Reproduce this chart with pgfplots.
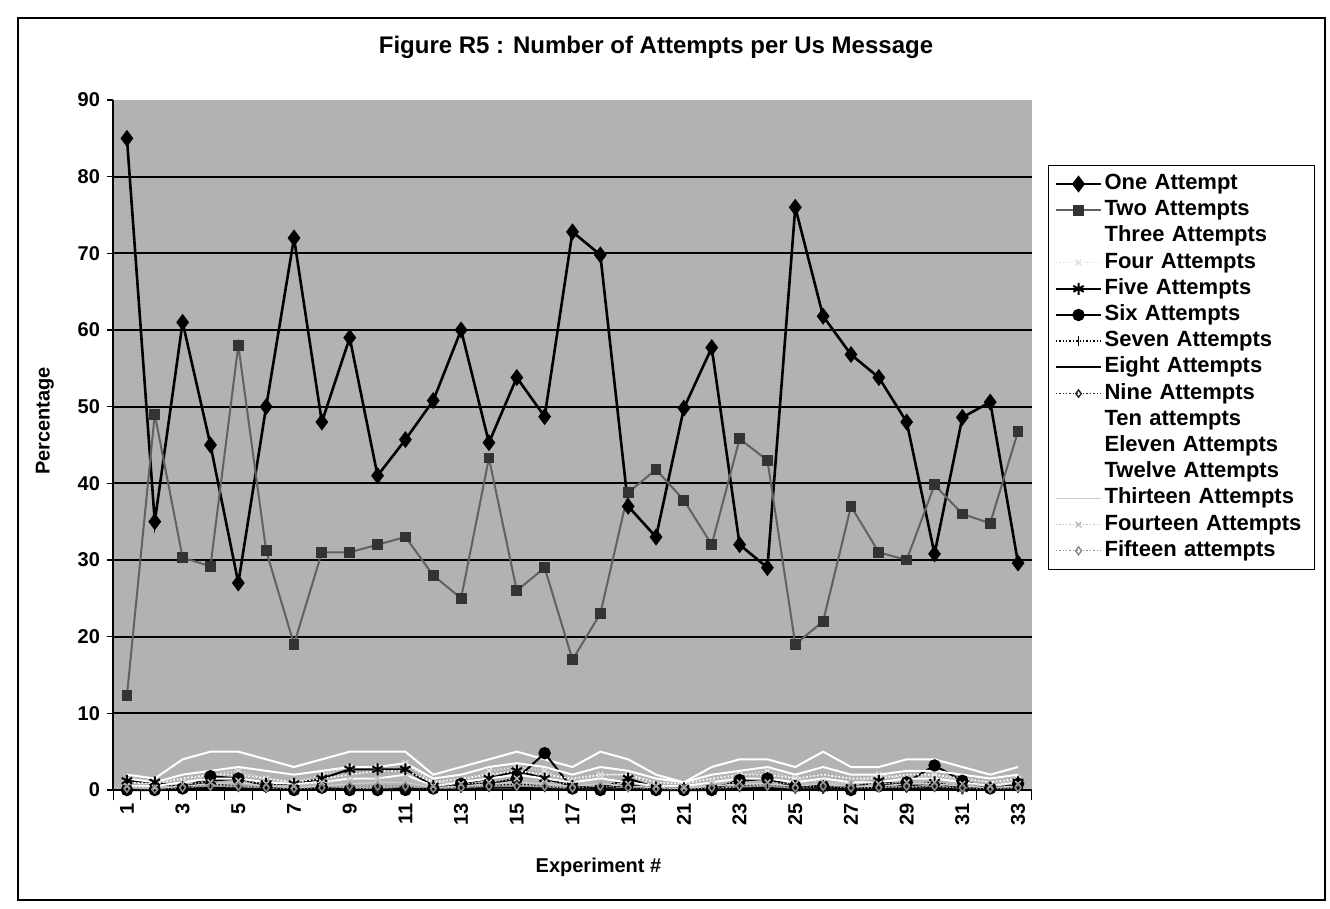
\documentclass[border=0pt]{standalone}
\usepackage{pgfplots}
\pgfplotsset{compat=1.18}
\usepackage{pgfplotstable}
\usepackage{fontspec}
\setmainfont{Liberation Sans}

\pgfplotstableread{
x one two three four five six seven eight nine ten eleven twelve thirteen fourteen fifteen
1 85 12.3 2 0.5 1.2 0 0.3 0.1 0.2 1.5 1 0.5 0.3 0.5 0.2
2 35 49 1.5 0.3 1 0 0.2 0 0.1 1 0.8 0.5 0.2 0.3 0.1
3 61 30.3 4 1 0.3 0.2 0.5 0.2 0.3 2 1.5 1 0.5 0.8 0.3
4 45 29.2 5 2 1.2 1.8 0.8 0.3 0.5 2.5 2 1.5 0.8 1 0.5
5 27 58 5 2.5 1.5 1.5 0.5 0.2 0.3 3 2 1.5 1 1.2 0.5
6 50 31.2 4 1.5 0.8 0.5 0.3 0.1 0.2 2.5 1.5 1 0.5 0.8 0.3
7 72 19 3 1 0.8 0 0.2 0 0.1 2 1 0.8 0.3 0.5 0.2
8 48 31 4 2 1.5 0.3 0.3 0.2 0.2 2.5 1.5 1 0.5 1 0.3
9 59 31 5 3 2.7 0 0.2 0 0.1 3 2 1.5 0.8 1.2 0.5
10 41 32 5 3 2.7 0 0.1 0 0.1 3 2.5 1.5 1 1.5 0.5
11 45.7 33 5 3.5 2.7 0 0.3 0.2 0.2 3.5 2.5 2 1 1.5 0.5
12 50.8 28 2 1 0.5 0.2 0.2 0 0.1 1.5 1 0.5 0.3 0.5 0.2
13 60 25 3 1 0.8 0.8 0.3 0.1 0.2 2 1.5 1 0.5 0.8 0.3
14 45.3 43.3 4 2.5 1.5 0.8 0.5 0.3 0.3 3 2 1.5 0.8 1 0.5
15 53.8 26 5 3 2.5 1.5 0.8 0.3 0.5 3.5 2.5 2 1 1.5 0.5
16 48.7 29 4 2.5 1.5 4.8 0.5 0.2 0.3 3 2 1.5 0.8 1 0.5
17 72.8 17 3 1 0.5 0.2 0.2 0 0.1 2 1.5 1 0.5 0.8 0.3
18 69.8 23 5 2 0.2 0 0.1 0 0.1 3 2 1.5 0.8 1 0.5
19 37 38.8 4 2 1.5 0.8 0.5 0.2 0.3 2.5 2 1 0.5 0.8 0.3
20 33 41.8 2 0.5 0.3 0 0.2 0 0.1 1.5 1 0.5 0.3 0.5 0.2
21 49.8 37.8 1 0.3 0.2 0 0.1 0 0.1 1 0.8 0.5 0.2 0.3 0.1
22 57.7 32 3 1 0.2 0 0.1 0 0.1 2 1.5 1 0.5 0.8 0.3
23 32 45.8 4 2 1.2 1.3 0.5 0.2 0.3 2.5 2 1.5 0.8 1 0.5
24 29 43 4 2.5 1.5 1.5 0.8 0.3 0.5 3 2 1.5 0.8 1 0.5
25 76 19 3 1.5 0.3 0.5 0.3 0 0.2 2 1.5 1 0.5 0.8 0.3
26 61.8 22 5 1 0.3 0.5 0.2 0 0.1 3 2 1.5 0.8 1 0.5
27 56.8 37 3 0.8 0.3 0 0.2 0 0.1 2 1.5 1 0.5 0.8 0.3
28 53.8 31 3 2 1.2 0.5 0.5 0.2 0.3 2 1.5 1 0.5 0.8 0.3
29 48 30 4 1.5 0.5 1 0.3 0.1 0.2 2.5 2 1.5 0.8 1 0.5
30 30.8 39.8 4 2 1 3.2 0.5 0.3 0.3 2.5 2 1.5 0.8 1 0.5
31 48.6 36 3 1 0.2 1.2 0.2 0 0.1 2 1.5 1 0.5 0.8 0.3
32 50.6 34.8 2 0.5 0.3 0.2 0.1 0 0.1 1.5 1 0.5 0.3 0.5 0.2
33 29.6 46.8 3 1.5 1 0.8 0.3 0.1 0.2 2 1.5 1 0.5 0.8 0.3
}\datatable

\begin{document}
\begin{tikzpicture}
\useasboundingbox (0,0) rectangle (665pt,-454.5pt);
\draw[line width=0.6pt] (9pt,-9pt) rectangle (662.5pt,-450pt);
\node[font=\fontsize{12}{14}\selectfont\bfseries] at (328pt,-23.5pt) {Figure R5 : Number of Attempts per Us Message};
\begin{axis}[
  at={(56.5pt,-395pt)}, anchor=south west,
  scale only axis, width=459.5pt, height=345pt,
  xmin=0.5, xmax=33.5, ymin=0, ymax=90,
  axis background/.style={fill=black!30},
  axis x line*=bottom, axis y line*=left,
  axis line style={black, line width=0.8pt},
  xtick={1,3,...,33},
  major x tick style={draw=none},
  minor xtick={0.5,1.5,...,33.5},
  minor x tick style={black, line width=0.5pt},
  minor tick length=5pt,
  ytick={0,10,...,90},
  major tick length=3pt,
  tick align=outside,
  tick style={black, line width=0.6pt},
  extra y ticks={10,20,...,80},
  extra y tick labels={},
  extra y tick style={grid=major, major tick length=0pt},
  grid style={black, line width=0.9pt},
  x tick label style={rotate=90, anchor=east, font=\fontsize{10}{12}\selectfont\bfseries},
  y tick label style={font=\fontsize{10}{12}\selectfont\bfseries},
  /pgf/number format/assume math mode=true,
  xlabel={Experiment \#}, ylabel={Percentage},
  label style={font=\fontsize{10}{12}\selectfont\bfseries},
  xlabel style={yshift=-9.5pt, xshift=13pt},
  ylabel style={yshift=2pt, xshift=12pt},
  clip=false,
  legend cell align=left,
  legend image code/.code={\draw[mark repeat=2,mark phase=2,#1] plot coordinates {(0cm,0cm)(0.4cm,0cm)(0.8cm,0cm)};},
  legend style={at={(1.0174,0.9058)}, anchor=north west, draw=black, line width=0.5pt,
    font=\fontsize{11}{12}\selectfont\bfseries, row sep=0.6pt, inner sep=3pt,
    nodes={inner sep=1pt, text height=8pt, text depth=2.5pt}, text width=101pt},
]
\addplot[black, line width=1.3pt, mark=diamond*, mark size=3.2pt] table[x=x,y=one] {\datatable};
\addplot[black!62, line width=1pt, mark=square*, mark size=2.2pt, mark options={black!80}] table[x=x,y=two] {\datatable};
\addplot[white, line width=1pt, no marks] table[x=x,y=three] {\datatable};
\addplot[black!12, line width=0.7pt, densely dotted, mark=x, mark size=2pt, mark options={solid}] table[x=x,y=four] {\datatable};
\addplot[black, line width=1pt, mark=asterisk, mark size=3pt] table[x=x,y=five] {\datatable};
\addplot[black, line width=1pt, mark=*, mark size=2.6pt] table[x=x,y=six] {\datatable};
\addplot[black, line width=0.7pt, densely dotted, mark=|, mark size=2.5pt, mark options={solid}] table[x=x,y=seven] {\datatable};
\addplot[black, line width=0.9pt, mark=-, mark size=2.5pt] table[x=x,y=eight] {\datatable};
\addplot[black!85, line width=0.7pt, densely dotted, mark=diamond, mark size=1.8pt, mark options={solid}] table[x=x,y=nine] {\datatable};
\addplot[white, line width=1pt, no marks] table[x=x,y=ten] {\datatable};
\addplot[white, line width=0.8pt, densely dotted, no marks] table[x=x,y=eleven] {\datatable};
\addplot[white, line width=1pt, no marks] table[x=x,y=twelve] {\datatable};
\addplot[black!20, line width=0.7pt, no marks] table[x=x,y=thirteen] {\datatable};
\addplot[black!25, line width=0.7pt, densely dotted, mark=x, mark size=2pt, mark options={solid}] table[x=x,y=fourteen] {\datatable};
\addplot[black!45, line width=0.7pt, densely dotted, mark=diamond, mark size=2pt, mark options={solid}] table[x=x,y=fifteen] {\datatable};
\legend{One Attempt, Two Attempts, Three Attempts, Four Attempts, Five Attempts, Six Attempts, Seven Attempts, Eight Attempts, Nine Attempts, Ten attempts, Eleven Attempts, Twelve Attempts, Thirteen Attempts, Fourteen Attempts, Fifteen attempts}
\end{axis}
\end{tikzpicture}
\end{document}
